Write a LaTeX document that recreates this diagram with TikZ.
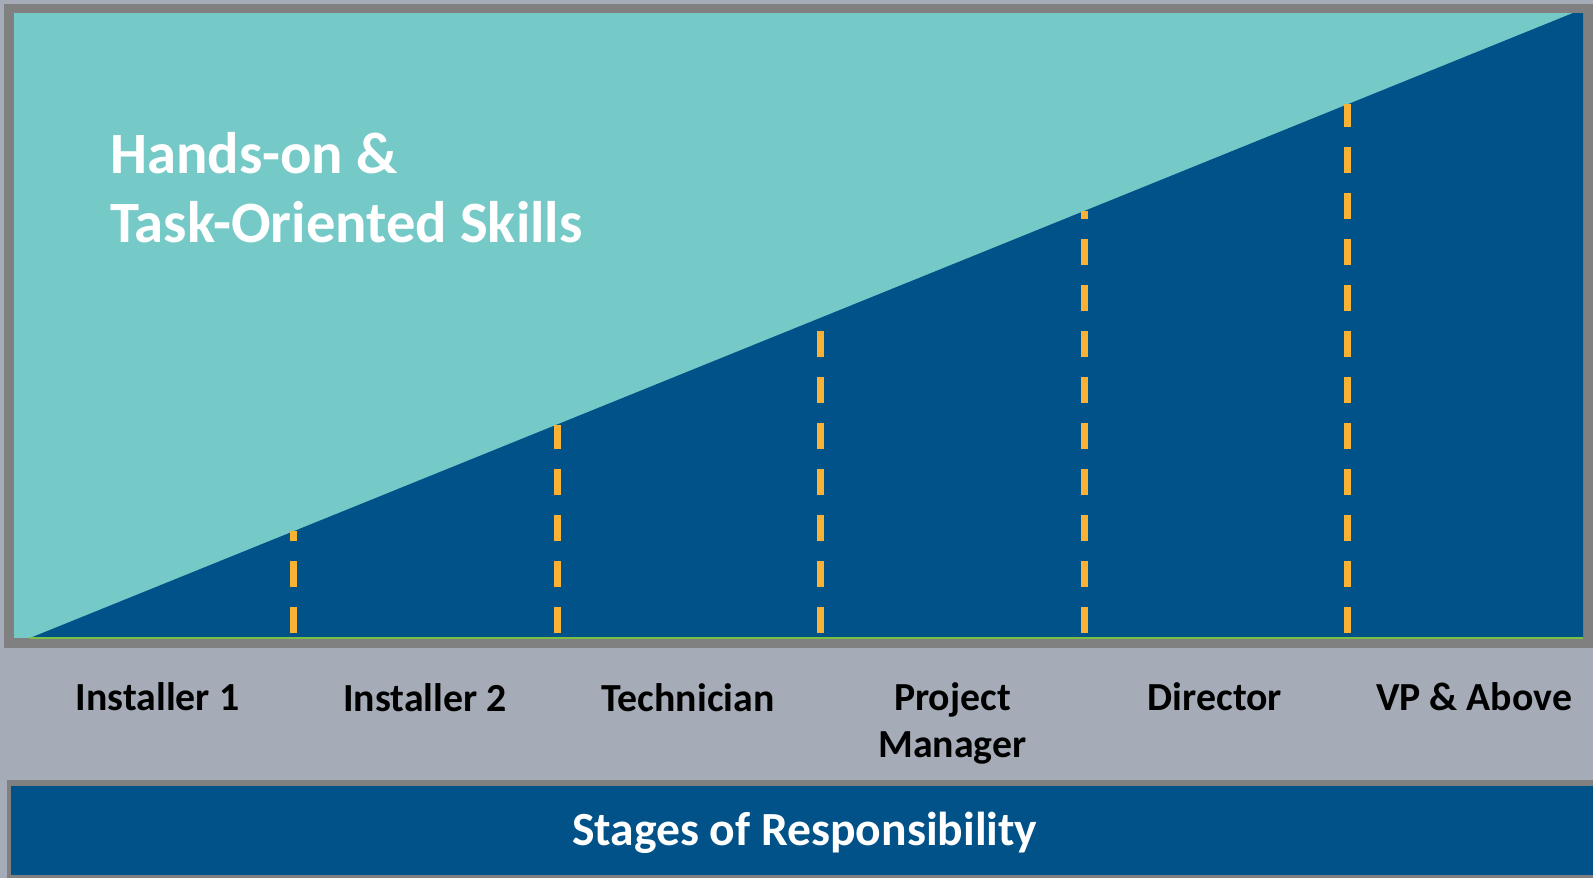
\documentclass[tikz,border=0pt]{standalone}
\usepackage{fontspec}
\setmainfont{Carlito}
\definecolor{bgc}{RGB}{165,172,183}
\definecolor{teal}{RGB}{117,202,200}
\definecolor{navy}{RGB}{0,82,136}
\definecolor{frame}{RGB}{128,128,128}
\definecolor{dashc}{RGB}{250,178,52}
\definecolor{grn}{RGB}{122,193,67}
\tikzset{
  lbl/.style={anchor=base, inner sep=0pt, font=\fontsize{39.8}{47}\selectfont\bfseries, text=black},
  ttl/.style={anchor=base west, inner sep=0pt, font=\fontsize{58.6}{69}\selectfont\bfseries, text=white},
  barlbl/.style={anchor=base, inner sep=0pt, font=\fontsize{47.6}{56}\selectfont\bfseries, text=white},
  dashline/.style={draw=dashc, line width=7pt, dash pattern=on 26pt off 20pt},
}
\begin{document}
\begin{tikzpicture}[x=1pt,y=-1pt]
\useasboundingbox (0,0) rectangle (1593,878);
\fill[bgc] (0,0) rectangle (1593,878);
% chart frame
\fill[frame] (4,4) rectangle (1593,648);
\fill[teal] (14,13) rectangle (1583,638);
\coordinate (dl) at (30,638);
\coordinate (dr) at (1573,13);
\fill[navy] (dl) -- (dr) -- (1583,13) -- (1583,638) -- cycle;
\draw[grn, line width=1.5pt] (dl) -- (1583,638);
% dashed lines
\foreach \n/\x/\t in {1/293.5/531.3, 2/557/424.5, 3/820.5/317.8, 4/1084/211.1, 5/1347.5/104.3}{
  \coordinate (b\n) at (\x,633);
  \coordinate (t\n) at (\x,\t);
  \draw[dashline] (b\n) -- (t\n);
}
% title
\node[ttl] (title1) at (110,173) {Hands-on \&};
\node[ttl] (title2) at (110,242) {Task-Oriented Skills};
% labels
\node[lbl] (l1) at (157.5,710) {Installer 1};
\node[lbl] (l2) at (425,711) {Installer 2};
\node[lbl] (l3) at (688,711) {Technician};
\node[lbl] (l4a) at (952.5,710) {Project};
\node[lbl] (l4b) at (952.5,757) {Manager};
\node[lbl] (l5) at (1215,710) {Director};
\node[lbl] (l6) at (1474,710) {VP \& Above};
% bottom bar
\fill[frame] (7,780) rectangle (1593,878);
\fill[navy] (11,786) rectangle (1593,875);
\node[barlbl] (bar) at (804.7,845) {Stages of Responsibility};
\end{tikzpicture}
\end{document}
